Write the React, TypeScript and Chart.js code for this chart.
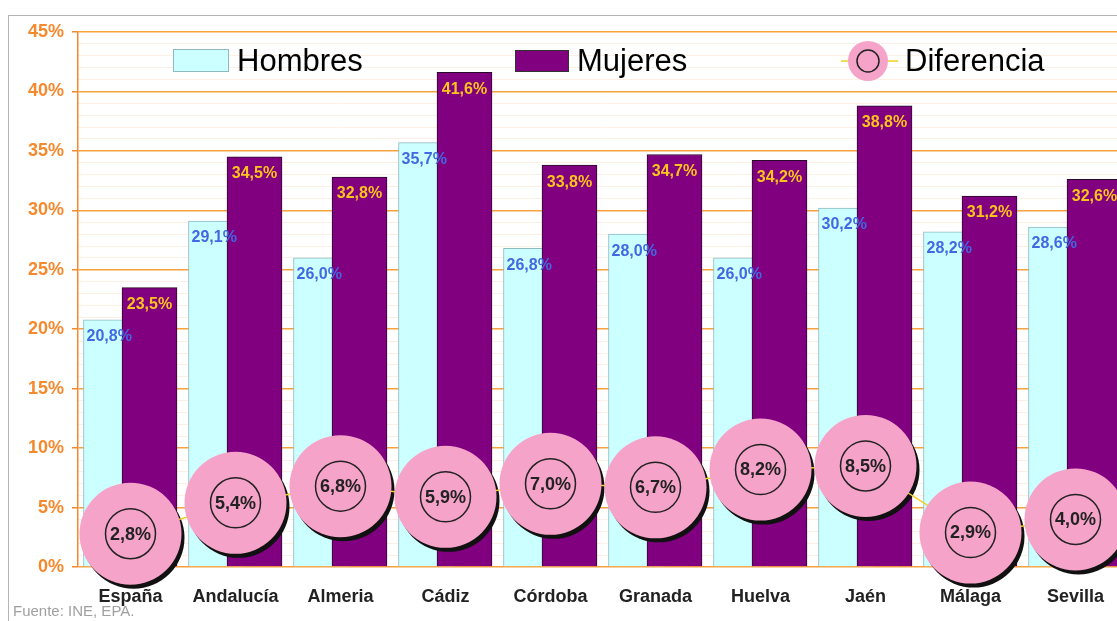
import React, { useEffect, useRef } from 'react';
import { Chart, registerables } from 'chart.js';

Chart.register(...registerables);

const categories = ['España', 'Andalucía', 'Almeria', 'Cádiz', 'Córdoba', 'Granada', 'Huelva', 'Jaén', 'Málaga', 'Sevilla'];
const hombres = [20.8, 29.1, 26.0, 35.7, 26.8, 28.0, 26.0, 30.2, 28.2, 28.6];
const mujeres = [23.5, 34.5, 32.8, 41.6, 33.8, 34.7, 34.2, 38.8, 31.2, 32.6];
const diferencia = [2.8, 5.4, 6.8, 5.9, 7.0, 6.7, 8.2, 8.5, 2.9, 4.0];
const yMin = 0;
const yMax = 45;
const yMajorStep = 5;
const yMinorStep = 1;
const sourceText = 'Fuente: INE, EPA.';
const legendLabels = ['Hombres', 'Mujeres', 'Diferencia'];

// layout constants (not data)
const HOMBRES_SHIFT = -0.181;
const MUJERES_SHIFT = 0.181;
const BUBBLE_R = 51;
const FONT = 'Arial, "Liberation Sans", sans-serif';
const ORANGE = '#f5892e';
const GRID = '#f7a240';
const PINK = '#f6a3c9';

const fmt = (v: number) => v.toFixed(1).replace('.', ',') + '%';

const overlayPlugin = {
  id: 'overlay',
  beforeDatasetDraw(chart: any, args: any) {
    if (args.index !== 2) return;
    const ctx = chart.ctx;
    ctx.save();
    ctx.fillStyle = '#111';
    args.meta.data.forEach((pt: any) => {
      ctx.beginPath();
      ctx.arc(pt.x + 3, pt.y + 4, BUBBLE_R, 0, Math.PI * 2);
      ctx.fill();
    });
    ctx.restore();
  },
  afterDatasetsDraw(chart: any) {
    const ctx = chart.ctx;
    ctx.save();
    // bar value labels
    ctx.font = `bold 16px ${FONT}`;
    ctx.textBaseline = 'middle';
    const mH = chart.getDatasetMeta(0);
    mH.data.forEach((bar: any, i: number) => {
      ctx.fillStyle = '#4169e1';
      ctx.textAlign = 'left';
      ctx.fillText(fmt(hombres[i]), bar.x - bar.width / 2 + 3, bar.y + 17);
    });
    const mM = chart.getDatasetMeta(1);
    mM.data.forEach((bar: any, i: number) => {
      ctx.fillStyle = '#fcc41c';
      ctx.textAlign = 'center';
      ctx.fillText(fmt(mujeres[i]), bar.x, bar.y + 17);
    });
    // bubble inner rings and text
    const mD = chart.getDatasetMeta(2);
    mD.data.forEach((pt: any, i: number) => {
      ctx.beginPath();
      ctx.arc(pt.x, pt.y, 25, 0, Math.PI * 2);
      ctx.strokeStyle = '#222';
      ctx.lineWidth = 1.5;
      ctx.stroke();
      ctx.fillStyle = '#222';
      ctx.font = `bold 18px ${FONT}`;
      ctx.textAlign = 'center';
      ctx.textBaseline = 'middle';
      ctx.fillText(fmt(diferencia[i]), pt.x, pt.y + 1);
    });
    // legend
    ctx.font = `31px ${FONT}`;
    ctx.textAlign = 'left';
    ctx.textBaseline = 'middle';
    ctx.lineWidth = 1;
    ctx.fillStyle = '#ccffff';
    ctx.fillRect(173.5, 49.5, 55, 22);
    ctx.strokeStyle = '#8fb8c0';
    ctx.strokeRect(173.5, 49.5, 55, 22);
    ctx.fillStyle = '#000';
    ctx.fillText(legendLabels[0], 237, 62);

    ctx.fillStyle = '#800080';
    ctx.fillRect(515.5, 50.5, 53, 21);
    ctx.strokeStyle = '#333';
    ctx.strokeRect(515.5, 50.5, 53, 21);
    ctx.fillStyle = '#000';
    ctx.fillText(legendLabels[1], 577, 62);

    ctx.strokeStyle = '#f0d020';
    ctx.lineWidth = 1.5;
    ctx.beginPath();
    ctx.moveTo(841, 61);
    ctx.lineTo(898, 61);
    ctx.stroke();
    ctx.fillStyle = PINK;
    ctx.beginPath();
    ctx.arc(868, 61, 20, 0, Math.PI * 2);
    ctx.fill();
    ctx.strokeStyle = '#222';
    ctx.lineWidth = 1.5;
    ctx.beginPath();
    ctx.arc(868, 61, 11, 0, Math.PI * 2);
    ctx.stroke();
    ctx.fillStyle = '#000';
    ctx.fillText(legendLabels[2], 905, 62);
    ctx.restore();
  },
};

export default function App() {
  const canvasRef = useRef<HTMLCanvasElement | null>(null);

  useEffect(() => {
    const canvas = canvasRef.current;
    if (!canvas) return;
    const yTickValues: number[] = [];
    for (let v = yMin; v <= yMax; v += yMinorStep) yTickValues.push(v);

    const chart = new Chart(canvas, {
      type: 'bar',
      data: {
        datasets: [
          {
            type: 'bar',
            label: legendLabels[0],
            data: hombres.map((v, i) => ({ x: i + HOMBRES_SHIFT, y: v })),
            backgroundColor: '#ccffff',
            borderColor: '#8fbac4',
            borderWidth: 1,
            barThickness: 56,
            grouped: false,
            order: 2,
          } as any,
          {
            type: 'bar',
            label: legendLabels[1],
            data: mujeres.map((v, i) => ({ x: i + MUJERES_SHIFT, y: v })),
            backgroundColor: '#800080',
            borderColor: '#2a0a2a',
            borderWidth: 1,
            barThickness: 55,
            grouped: false,
            order: 1,
          } as any,
          {
            type: 'line',
            label: legendLabels[2],
            data: diferencia.map((v, i) => ({ x: i, y: v })),
            borderColor: '#f0d020',
            borderWidth: 1.5,
            pointRadius: BUBBLE_R,
            pointHoverRadius: BUBBLE_R,
            pointBackgroundColor: PINK,
            pointBorderWidth: 0,
            clip: false,
            order: 0,
          } as any,
        ],
      },
      options: {
        responsive: false,
        animation: false,
        events: [],
        layout: { autoPadding: false, padding: { left: 0, right: 0, top: 32, bottom: 0 } },
        plugins: { legend: { display: false }, tooltip: { enabled: false } },
        scales: {
          x: {
            type: 'linear',
            offset: false,
            min: -0.5,
            max: categories.length - 0.5,
            afterBuildTicks: (scale: any) => {
              scale.ticks = categories.map((_, i) => ({ value: i }));
            },
            afterFit: (scale: any) => {
              scale.height = 54;
            },
            grid: { display: false, offset: false },
            border: { display: false },
            ticks: {
              autoSkip: false,
              maxRotation: 0,
              padding: 11,
              color: '#222',
              font: { family: FONT, size: 18, weight: 'bold' },
              callback: (v: any) => categories[Math.round(Number(v))] ?? '',
            },
          },
          y: {
            type: 'linear',
            min: yMin,
            max: yMax,
            afterBuildTicks: (scale: any) => {
              scale.ticks = yTickValues.map((v) => ({ value: v }));
            },
            afterFit: (scale: any) => {
              scale.width = 78;
            },
            border: { display: true, color: ORANGE, width: 1.5 },
            grid: {
              color: (c: any) => (c.tick && c.tick.value % yMajorStep === 0 ? GRID : '#fcefe3'),
              lineWidth: (c: any) => (c.tick && c.tick.value % yMajorStep === 0 ? 1.5 : 1),
              tickColor: (c: any) => (c.tick && c.tick.value % yMajorStep === 0 ? ORANGE : 'rgba(0,0,0,0)'),
              tickLength: 6,
            },
            ticks: {
              autoSkip: false,
              padding: 8,
              color: ORANGE,
              font: { family: FONT, size: 18, weight: 'bold' },
              callback: (v: any) => (Number(v) % yMajorStep === 0 ? v + '%' : ''),
            },
          },
        },
      },
      plugins: [overlayPlugin],
    } as any);

    return () => chart.destroy();
  }, []);

  return (
    <div style={{ position: 'fixed', left: 0, top: 0, width: 1117, height: 621, overflow: 'hidden', background: '#fff' }}>
      <div
        style={{
          position: 'absolute',
          left: 8,
          top: 15,
          width: 1300,
          height: 800,
          borderTop: '1px solid #b4b4b4',
          borderLeft: '1px solid #b4b4b4',
        }}
      />
      <canvas ref={canvasRef} width={1128} height={621} style={{ position: 'absolute', left: 0, top: 0, width: 1128, height: 621 }} />
      <div
        style={{
          position: 'absolute',
          left: 13,
          top: 602,
          fontFamily: FONT,
          fontSize: 15,
          lineHeight: '17px',
          color: '#a0a0a0',
          whiteSpace: 'nowrap',
        }}
      >
        {sourceText}
      </div>
    </div>
  );
}
